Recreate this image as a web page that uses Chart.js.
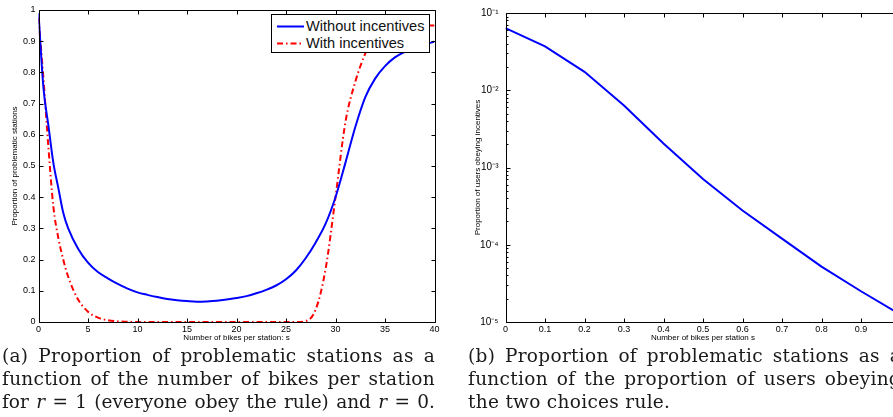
<!DOCTYPE html>
<html>
<head>
<meta charset="utf-8">
<script src="https://cdn.jsdelivr.net/npm/chart.js@4.4.1/dist/chart.umd.min.js"></script>
<style>
  html, body { margin:0; padding:0; background:#fff; }
  body { width:893px; height:417px; overflow:hidden; position:relative; }
  canvas { position:absolute; }
  #c1 { left:0; top:0; }
  #c2 { left:450px; top:0; }
  #legend { position:absolute; left:271px; top:14px; width:157px; height:37px; border:1px solid #000; background:#fff;
            font-family:"Liberation Sans", Arial, sans-serif; font-size:14.6px; color:#111; }
  #legend .row { position:absolute; left:0; height:18px; line-height:18px; white-space:nowrap; }
  #legend svg { position:absolute; left:5px; top:0; }
  #legend span { position:absolute; left:34px; top:0; }
  .cap { position:absolute; top:344px; font-family:"DejaVu Serif", "Liberation Serif", serif; font-size:18.5px;
         line-height:23px; color:#1a1a1a; letter-spacing:0.3px; }
  .cap div { text-align:justify; text-align-last:justify; white-space:nowrap; }
  .cap div.tight { letter-spacing:0px; }
  .cap div.last { text-align:left; text-align-last:left; }
</style>
</head>
<body>
<canvas id="c1" width="450" height="345"></canvas>
<canvas id="c2" width="460" height="345"></canvas>
<div id="legend">
  <div class="row" style="top:2px;width:157px;">
    <svg width="28" height="18"><line x1="0" y1="9.5" x2="27" y2="9.5" stroke="#0000ff" stroke-width="2"/></svg>
    <span>Without incentives</span>
  </div>
  <div class="row" style="top:19px;width:157px;">
    <svg width="28" height="18"><line x1="0" y1="9.5" x2="27" y2="9.5" stroke="#ff0000" stroke-width="2" stroke-dasharray="6,3,1.5,3"/></svg>
    <span>With incentives</span>
  </div>
</div>
<div class="cap" style="left:2px;width:433px;">
  <div>(a) Proportion of problematic stations as a</div>
  <div>function of the number of bikes per station</div>
  <div class="tight">for <i>r</i> = 1 (everyone obey the rule) and <i>r</i> = 0.</div>
</div>
<div class="cap" style="left:468px;width:433px;">
  <div>(b) Proportion of problematic stations as a</div>
  <div>function of the proportion of users obeying</div>
  <div class="last">the two choices rule.</div>
</div>
<script>
// ---------- data (a) ----------
const sValues = [0,0.5,1,1.5,2,2.5,3,4,5,6,7,8,9,10,11,12,13,14,15,16,17,18,19,20,21,22,23,24,25,26,27,28,29,30,31,32,33,34,35,36,37,38,39,40];
const withoutIncentives = [0.99,0.75,0.63,0.51,0.43,0.35,0.30,0.235,0.19,0.16,0.14,0.122,0.107,0.095,0.087,0.08,0.074,0.07,0.067,0.065,0.066,0.068,0.072,0.077,0.083,0.092,0.103,0.117,0.137,0.165,0.205,0.255,0.315,0.40,0.51,0.625,0.72,0.78,0.82,0.848,0.866,0.88,0.89,0.898];
const withIncentives = [0.975,0.78,0.56,0.37,0.27,0.2,0.145,0.072,0.033,0.014,0.006,0.002,0.0008,0,0,0,0,0,0,0,0,0,0,0,0,0,0,0,0,0,0.003,0.04,0.17,0.40,0.64,0.77,0.86,0.925,0.945,0.95,0.95,0.95,0.95,0.95];
const xTicksA = [0,5,10,15,20,25,30,35,40];
const yTicksA = [0,0.1,0.2,0.3,0.4,0.5,0.6,0.7,0.8,0.9,1];
const seriesLabels = ['Without incentives','With incentives'];

// ---------- data (b) ----------
const rValues = [0,0.1,0.2,0.3,0.4,0.5,0.6,0.7,0.8,0.9,1.0];
const obeyingProportion = [0.0636,0.037,0.0173,0.00635,0.00204,0.00071,0.000278,0.00012,0.000052,0.000025,0.0000125];
const xTicksB = [0,0.1,0.2,0.3,0.4,0.5,0.6,0.7,0.8,0.9,1];
const yDecadesB = [1e-5,1e-4,1e-3,1e-2,1e-1];

const SUP = {'-':'\u207B','0':'\u2070','1':'\u00B9','2':'\u00B2','3':'\u00B3','4':'\u2074','5':'\u2075','6':'\u2076','7':'\u2077','8':'\u2078','9':'\u2079'};
function pow10Label(v){ const e = Math.round(Math.log10(v)); return '10' + String(e).split('').map(c=>SUP[c]).join(''); }
function numLabel(v){ const n = Number(v.toFixed(2)); return String(n); }

const tickFont = { family:'"Liberation Sans", Arial, sans-serif', size:9 };
const logTickFont = { family:'"Liberation Sans", Arial, sans-serif', size:10 };
const titleFont = { family:'"Liberation Sans", Arial, sans-serif', size:8 };

// MATLAB-like box with inward ticks
const boxPlugin = {
  id:'boxTicks',
  afterDraw(chart){
    const ctx = chart.ctx, a = chart.chartArea;
    const xs = chart.scales.x, ys = chart.scales.y;
    const L = Math.round(a.left)+0.5, R = Math.round(a.right)+0.5, T = Math.round(a.top)+0.5, B = Math.round(a.bottom)+0.5;
    ctx.save();
    ctx.strokeStyle = '#000'; ctx.lineWidth = 1;
    ctx.beginPath();
    ctx.rect(L, T, R-L, B-T);
    const len = 4;
    xs.ticks.forEach(t=>{
      const x = Math.round(xs.getPixelForValue(t.value))+0.5;
      ctx.moveTo(x,B); ctx.lineTo(x,B-len);
      ctx.moveTo(x,T); ctx.lineTo(x,T+len);
    });
    ys.ticks.forEach(t=>{
      const y = Math.round(ys.getPixelForValue(t.value))+0.5;
      ctx.moveTo(L,y); ctx.lineTo(L+len,y);
      ctx.moveTo(R,y); ctx.lineTo(R-len,y);
    });
    if (ys.type === 'logarithmic') {
      ys.ticks.forEach(t=>{
        for (let m=2;m<=9;m++){
          const v = t.value*m;
          if (v >= ys.max) continue;
          const y = Math.round(ys.getPixelForValue(v))+0.5;
          ctx.moveTo(L,y); ctx.lineTo(L+2,y);
          ctx.moveTo(R,y); ctx.lineTo(R-2,y);
        }
      });
    }
    ctx.stroke();
    ctx.restore();
  }
};

const common = {
  responsive:false, animation:false, devicePixelRatio:1,
  plugins:{ legend:{display:false}, tooltip:{enabled:false} },
  elements:{ point:{radius:0}, line:{cubicInterpolationMode:'monotone'} }
};

new Chart(document.getElementById('c1'), {
  type:'line',
  data:{ datasets:[
    { label:seriesLabels[0], data:sValues.map((s,i)=>({x:s,y:withoutIncentives[i]})), borderColor:'#0000ff', borderWidth:2, fill:false },
    { label:seriesLabels[1], data:sValues.map((s,i)=>({x:s,y:withIncentives[i]})), borderColor:'#ff0000', borderWidth:2, borderDash:[6,3,1.5,3], fill:false }
  ]},
  options:Object.assign({}, common, {
    layout:{ padding:{ top:10, right:15.5, left:0, bottom:0 } },
    scales:{
      x:{ type:'linear', min:0, max:40,
          afterBuildTicks:s=>{ s.ticks = xTicksA.map(v=>({value:v})); },
          ticks:{ font:tickFont, color:'#000', padding:2, maxRotation:0, autoSkip:false, callback:v=>numLabel(v) },
          grid:{ display:false, drawTicks:false }, border:{ display:false },
          title:{ display:true, text:'Number of bikes per station: s', font:titleFont, color:'#000', padding:{top:0,bottom:2} },
          afterFit:s=>{ s.height = 23; } },
      y:{ type:'linear', min:0, max:1,
          afterBuildTicks:s=>{ s.ticks = yTicksA.map(v=>({value:v})); },
          ticks:{ font:tickFont, color:'#000', padding:3, autoSkip:false, callback:v=>numLabel(v) },
          grid:{ display:false, drawTicks:false }, border:{ display:false },
          title:{ display:true, text:'Proportion of problematic stations', font:titleFont, color:'#000', padding:{top:10,bottom:0} },
          afterFit:s=>{ s.width = 38.5; } }
    }
  }),
  plugins:[boxPlugin]
});

new Chart(document.getElementById('c2'), {
  type:'line',
  data:{ datasets:[
    { label:'Proportion of users obeying incentives', data:rValues.map((r,i)=>({x:r,y:obeyingProportion[i]})), borderColor:'#0000ff', borderWidth:2, fill:false }
  ]},
  options:Object.assign({}, common, {
    elements:{ point:{radius:0}, line:{tension:0} },
    layout:{ padding:{ top:11, right:9.5, left:0, bottom:0 } },
    scales:{
      x:{ type:'linear', min:0, max:1,
          afterBuildTicks:s=>{ s.ticks = xTicksB.map(v=>({value:v})); },
          ticks:{ font:tickFont, color:'#000', padding:2, maxRotation:0, autoSkip:false, callback:v=>numLabel(v) },
          grid:{ display:false, drawTicks:false }, border:{ display:false },
          title:{ display:true, text:'Number of bikes per station s', font:titleFont, color:'#000', padding:{top:0,bottom:2} },
          afterFit:s=>{ s.height = 23; } },
      y:{ type:'logarithmic', min:1e-5, max:1e-1,
          afterBuildTicks:s=>{ s.ticks = yDecadesB.map(v=>({value:v})); },
          ticks:{ font:logTickFont, color:'#000', padding:7, autoSkip:false, callback:v=>pow10Label(v) },
          grid:{ display:false, drawTicks:false }, border:{ display:false },
          title:{ display:true, text:'Proportion of users obeying incentives', font:titleFont, color:'#000', padding:{top:23,bottom:0} },
          afterFit:s=>{ s.width = 55.5; } }
    }
  }),
  plugins:[boxPlugin]
});
</script>
</body>
</html>
